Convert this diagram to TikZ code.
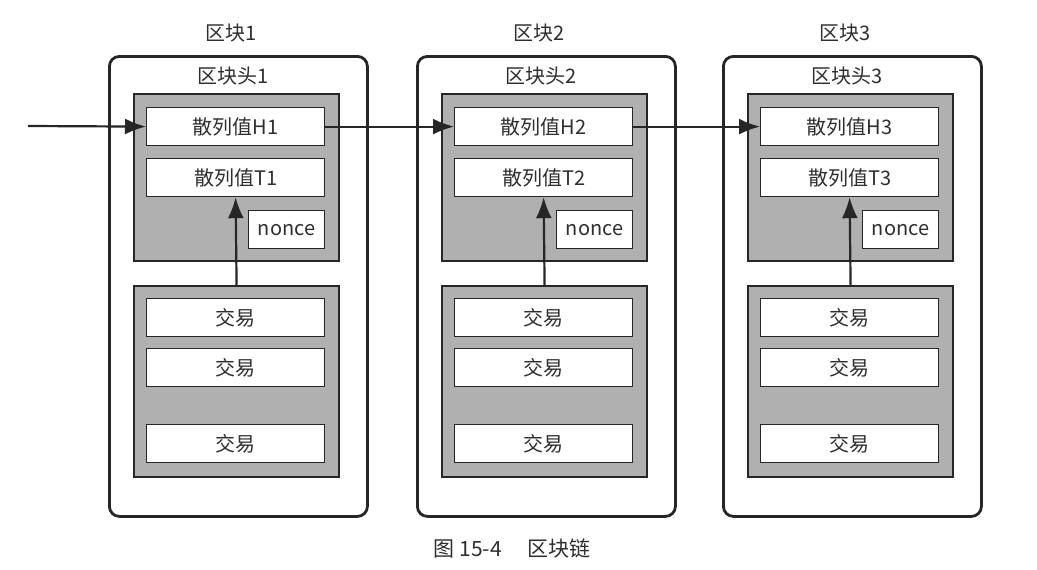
\documentclass[tikz,border=0pt]{standalone}
\usepackage{fontspec}
\setmainfont{Noto Sans CJK SC}
\usetikzlibrary{arrows.meta,positioning,calc}
\definecolor{inkC}     {HTML}{262626}
\definecolor{textC}    {HTML}{2E2E2E}
\definecolor{shadeFill}{HTML}{B0B0B0}
\tikzset{
  >={Latex[length=21pt,width=16pt]},
  blockOuter/.style={draw=inkC,line width=2.8pt,rounded corners=10pt,fill=white,
    minimum width=258pt,minimum height=460pt,anchor=north west,inner sep=0pt},
  shadeBox/.style={draw=inkC,line width=2.2pt,fill=shadeFill,
    minimum width=205pt,anchor=north west,inner sep=0pt},
  fieldBox/.style={draw=inkC,line width=1.2pt,fill=white,text=textC,
    minimum width=178pt,minimum height=38pt,anchor=north west,inner sep=0pt,
    font=\fontsize{20}{23}\selectfont},
  nonceBox/.style={fieldBox,minimum width=76pt},
  titleText/.style={text=textC,font=\fontsize{20}{23}\selectfont},
  linkArrow/.style={->,inkC,line width=2.2pt},
}
\begin{document}
\begin{tikzpicture}[x=1pt,y=-1pt]
\useasboundingbox (0,0) rectangle (1037,570);
\foreach \i/\dx in {1/0,2/308,3/614}{
  \node[blockOuter] (blk\i) at (108+\dx,55) {};
  \node[titleText] (lbl\i) at (231+\dx,33) {区块\i};
  \node[titleText] (hdrLbl\i) at (233+\dx,76) {区块头\i};
  % header fields
  \node[shadeBox,minimum height=167pt] (hdr\i) at (133+\dx,93) {};
  \node[fieldBox] (h\i) at (146+\dx,107) {散列值H\i};
  \node[fieldBox] (t\i) at (146+\dx,158) {散列值T\i};
  \node[nonceBox] (n\i) at (248+\dx,210) {nonce};
  % transactions
  \node[shadeBox,minimum height=191pt] (txs\i) at (133+\dx,285) {};
  \node[fieldBox] (tx\i a) at (146+\dx,298) {交易};
  \node[fieldBox] (tx\i b) at (146+\dx,348) {交易};
  \node[fieldBox] (tx\i c) at (146+\dx,424) {交易};
  \draw[linkArrow] (txs\i.north) -- (t\i.south);
}
\coordinate (start) at (28,126);
\draw[linkArrow] (start) -- (h1.west);
\draw[linkArrow] (h1.east) -- (h2.west);
\draw[linkArrow] (h2.east) -- (h3.west);
\node[titleText,font=\fontsize{21}{25}\selectfont] (caption) at (512,549)
  {图 15-4\hspace{1.2em}区块链};
\end{tikzpicture}
\end{document}
